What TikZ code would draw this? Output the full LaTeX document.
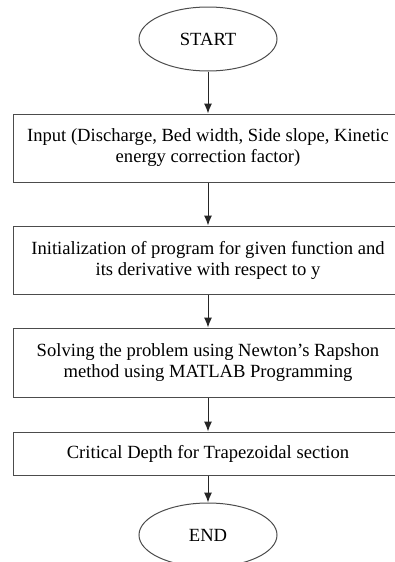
\documentclass[tikz,border=0pt]{standalone}
\usepackage{fontspec}
\setmainfont{Liberation Serif}
\usepackage{tikz}
\usetikzlibrary{shapes.geometric}
\usetikzlibrary{arrows.meta}
\pgfdeclarelayer{nodelayer}
\pgfdeclarelayer{edgelayer}
\pgfsetlayers{edgelayer,nodelayer,main}
\tikzstyle{terminal}=[shape=ellipse, draw=black!70, line width=1pt, fill=white, minimum width=138pt, minimum height=64pt, inner sep=0pt, font=\fontsize{18.6}{21}\selectfont]
\tikzstyle{process}=[shape=rectangle, draw=black!70, line width=1pt, fill=white, minimum width=390pt, inner sep=0pt, align=center, font=\fontsize{18.6}{21}\selectfont]
\tikzstyle{flow}=[-{Latex[length=10pt,width=8pt]}, draw=black!85, line width=1pt]

\begin{document}
\begin{tikzpicture}[x=1pt, y=-1pt]
	\useasboundingbox (0,0) rectangle (394,562);
	\begin{pgfonlayer}{nodelayer}
		\node [style=terminal] (0) at (208, 39) {START};
		\node [style=process, minimum height=68pt] (1) at (208, 148) {Input (Discharge, Bed width, Side slope, Kinetic\\energy correction factor)};
		\node [style=process, minimum height=68pt] (2) at (208, 260) {Initialization of program for given function and\\its derivative with respect to y};
		\node [style=process, minimum height=69pt] (3) at (208, 362.5) {Solving the problem using Newton's Rapshon\\method using MATLAB Programming};
		\node [style=process, minimum height=43pt] (4) at (208, 453.5) {Critical Depth for Trapezoidal section};
		\node [style=terminal] (5) at (208, 535) {END};
	\end{pgfonlayer}
	\begin{pgfonlayer}{edgelayer}
		\draw [style=flow] (0) to (1);
		\draw [style=flow] (1) to (2);
		\draw [style=flow] (2) to (3);
		\draw [style=flow] (3) to (4);
		\draw [style=flow] (4) to (5);
	\end{pgfonlayer}
\end{tikzpicture}
\end{document}
